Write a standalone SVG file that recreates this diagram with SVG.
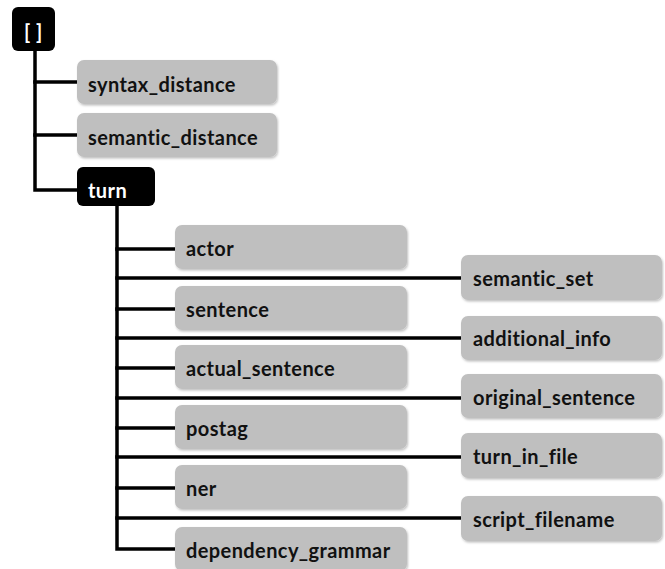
<svg xmlns="http://www.w3.org/2000/svg" width="665" height="569" viewBox="0 0 665 569">
  <style>
    .dark { fill: #000000; }
    .leaf { fill: #bfbfbf; filter: url(#shade); }
    .lbl { font-family: Lato, "Liberation Sans", sans-serif; font-weight: bold; font-size: 20px; letter-spacing: 0.4px; fill: #111111; }
    .lbl-w { font-family: Lato, "Liberation Sans", sans-serif; font-weight: bold; font-size: 20px; letter-spacing: 0.4px; fill: #ffffff; }
    .wire { stroke: #000000; stroke-width: 3.5; fill: none; stroke-linecap: square; }
  </style>
  <defs>
    <filter id="shade" x="-5%" y="-10%" width="110%" height="130%">
      <feDropShadow dx="1" dy="1.5" stdDeviation="1" flood-color="#000000" flood-opacity="0.25"/>
    </filter>
  </defs>
  <rect width="665" height="569" fill="#ffffff"/>

  <!-- tree wiring -->
  <g id="connectors">
    <path class="wire" d="M35 51 V190 H77"/>
    <path class="wire" d="M35 82 H77"/>
    <path class="wire" d="M35 135 H77"/>
    <path class="wire" d="M117 206 V549 H175"/>
    <path class="wire" d="M117 249 H175"/>
    <path class="wire" d="M117 309 H175"/>
    <path class="wire" d="M117 368 H175"/>
    <path class="wire" d="M117 428 H175"/>
    <path class="wire" d="M117 488 H175"/>
    <path class="wire" d="M117 278 H461"/>
    <path class="wire" d="M117 338 H461"/>
    <path class="wire" d="M117 398 H461"/>
    <path class="wire" d="M117 457 H461"/>
    <path class="wire" d="M117 518 H461"/>
  </g>

  <g id="root">
    <rect class="dark" x="12" y="7" width="43" height="44" rx="6"/>
    <text class="lbl-w" x="24" y="39">[ ]</text>
  </g>
  <g id="syntax_distance">
    <rect class="leaf" x="77" y="60" width="200" height="44" rx="7"/>
    <text class="lbl" x="88" y="92">syntax_distance</text>
  </g>
  <g id="semantic_distance">
    <rect class="leaf" x="77" y="113" width="200" height="44" rx="7"/>
    <text class="lbl" x="88" y="145">semantic_distance</text>
  </g>
  <g id="turn">
    <rect class="dark" x="77" y="167" width="78" height="39" rx="6"/>
    <text class="lbl-w" x="88" y="198">turn</text>
  </g>

  <g id="actor">
    <rect class="leaf" x="175" y="225" width="232" height="44" rx="7"/>
    <text class="lbl" x="186" y="256">actor</text>
  </g>
  <g id="sentence">
    <rect class="leaf" x="175" y="286" width="232" height="44" rx="7"/>
    <text class="lbl" x="186" y="317">sentence</text>
  </g>
  <g id="actual_sentence">
    <rect class="leaf" x="175" y="345" width="232" height="44" rx="7"/>
    <text class="lbl" x="186" y="376">actual_sentence</text>
  </g>
  <g id="postag">
    <rect class="leaf" x="175" y="405" width="232" height="44" rx="7"/>
    <text class="lbl" x="186" y="436">postag</text>
  </g>
  <g id="ner">
    <rect class="leaf" x="175" y="465" width="232" height="44" rx="7"/>
    <text class="lbl" x="186" y="496">ner</text>
  </g>
  <g id="dependency_grammar">
    <rect class="leaf" x="175" y="527" width="232" height="44" rx="7"/>
    <text class="lbl" x="186" y="558">dependency_grammar</text>
  </g>

  <g id="semantic_set">
    <rect class="leaf" x="461" y="255" width="201" height="45" rx="7"/>
    <text class="lbl" x="473" y="286">semantic_set</text>
  </g>
  <g id="additional_info">
    <rect class="leaf" x="461" y="316" width="201" height="44" rx="7"/>
    <text class="lbl" x="473" y="346">additional_info</text>
  </g>
  <g id="original_sentence">
    <rect class="leaf" x="461" y="374" width="201" height="44" rx="7"/>
    <text class="lbl" x="473" y="405">original_sentence</text>
  </g>
  <g id="turn_in_file">
    <rect class="leaf" x="461" y="433" width="201" height="45" rx="7"/>
    <text class="lbl" x="473" y="464">turn_in_file</text>
  </g>
  <g id="script_filename">
    <rect class="leaf" x="461" y="496" width="201" height="45" rx="7"/>
    <text class="lbl" x="473" y="527">script_filename</text>
  </g>
</svg>
